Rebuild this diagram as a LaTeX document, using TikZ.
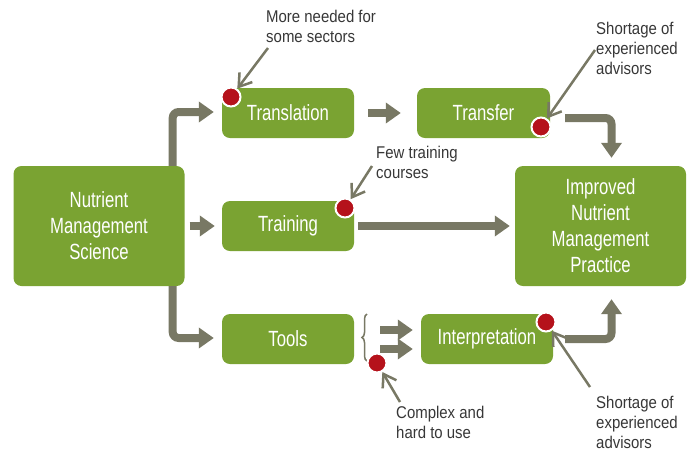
\documentclass[tikz,border=0pt]{standalone}
\usepackage{fontspec}
\setmainfont{Liberation Sans}
\newfontfamily\boxfont{Liberation Sans}[FakeStretch=0.76]
\newfontfamily\notefont{Liberation Sans}[FakeStretch=0.88]
\usetikzlibrary{arrows.meta,decorations.pathreplacing}
\definecolor{boxgreen}{RGB}{122,163,50}
\definecolor{arrowgrey}{RGB}{120,120,100}
\definecolor{dotred}{RGB}{181,18,27}
\definecolor{notegrey}{RGB}{55,55,55}
\tikzset{
  stepbox/.style={rectangle, rounded corners=8pt, fill=boxgreen, text=white, inner sep=0pt,
     minimum width=132pt, minimum height=50pt, align=center,
     font=\boxfont\fontsize{22}{26}\selectfont},
  bigbox/.style={stepbox, minimum width=171pt, minimum height=120pt},
  bigarrow/.style={draw=arrowgrey, line width=8pt, rounded corners=6pt,
     -{Triangle[length=15pt,width=20pt]}},
  reddot/.style={circle, fill=dotred, draw=white, line width=2pt, minimum size=19pt, inner sep=0pt},
  notetext/.style={anchor=north west, inner sep=0pt, align=left, text=notegrey,
     font=\notefont\fontsize{17}{20}\selectfont},
  notearrow/.style={draw=arrowgrey, line width=2.5pt,
     -{Straight Barb[length=12pt,width=16pt]}}
}
\begin{document}
\begin{tikzpicture}[x=1pt,y=-1pt]
\useasboundingbox (0,0) rectangle (694,451);
% boxes
\node[bigbox] (nms) at (99,226) {Nutrient\\Management\\Science};
\node[stepbox] (trans) at (288,113) {Translation};
\node[stepbox, minimum width=133pt] (transfer) at (483.5,113) {Transfer};
\node[stepbox] (training) at (288,226) {Training};
\node[stepbox] (tools) at (288,339) {Tools};
\node[stepbox] (interp) at (487,339) {Interpretation};
\node[bigbox] (impr) at (600.5,226) {Improved\\Nutrient\\Management\\Practice};
% thick arrows
\draw[bigarrow] ([xshift=-12pt]nms.north east) |- ([xshift=-8pt,yshift=1pt]trans.west);
\draw[bigarrow] ([xshift=-12pt]nms.south east) |- ([xshift=-8pt,yshift=1pt]tools.west);
\draw[bigarrow] ([xshift=5pt]nms.east) -- ([xshift=-7pt]training.west);
\draw[bigarrow] ([xshift=14pt]trans.east) -- ([xshift=-16pt]transfer.west);
\draw[bigarrow] ([xshift=15pt,yshift=-5pt]transfer.east) -| ([xshift=11pt,yshift=8pt]impr.north);
\draw[bigarrow] ([xshift=4pt]training.east) -- ([xshift=-5pt]impr.west);
\draw[bigarrow] ([xshift=12pt]interp.east) -| ([xshift=11pt,yshift=-13pt]impr.south);
% brace and its arrows
\coordinate (braceb) at (367,361);
\coordinate (bracet) at (367,314);
\draw[arrowgrey, line width=1.5pt, decorate, decoration={brace, amplitude=5pt}] (braceb) -- (bracet);
\coordinate (ba1) at (380,330);
\coordinate (ba2) at (380,349);
\draw[bigarrow] (ba1) -- ([xshift=-8pt]ba1 -| interp.west);
\draw[bigarrow] (ba2) -- ([xshift=-8pt]ba2 -| interp.west);
% red dots
\node[reddot] (d1) at (231,97) {};
\node[reddot] (d2) at (541,127) {};
\node[reddot] (d3) at (345,208) {};
\node[reddot] (d4) at (377,363) {};
\node[reddot] (d5) at (546,322) {};
% notes
\node[notetext] (n1) at (266,10) {More needed for\\some sectors};
\node[notetext] (n2) at (596,22) {Shortage of\\experienced\\advisors};
\node[notetext] (n3) at (376,146) {Few training\\courses};
\node[notetext] (n4) at (396,406) {Complex and\\hard to use};
\node[notetext] (n5) at (596,396) {Shortage of\\experienced\\advisors};
\coordinate (s1) at (268,48);
\coordinate (s2) at (595,50);
\coordinate (s3) at (372,166);
\coordinate (s4) at (400,402);
\coordinate (s5) at (590,387);
\draw[notearrow] (s1) -- (d1);
\draw[notearrow] (s2) -- (d2);
\draw[notearrow] (s3) -- (d3);
\draw[notearrow] (s4) -- (d4);
\draw[notearrow] (s5) -- (d5);
\end{tikzpicture}
\end{document}
